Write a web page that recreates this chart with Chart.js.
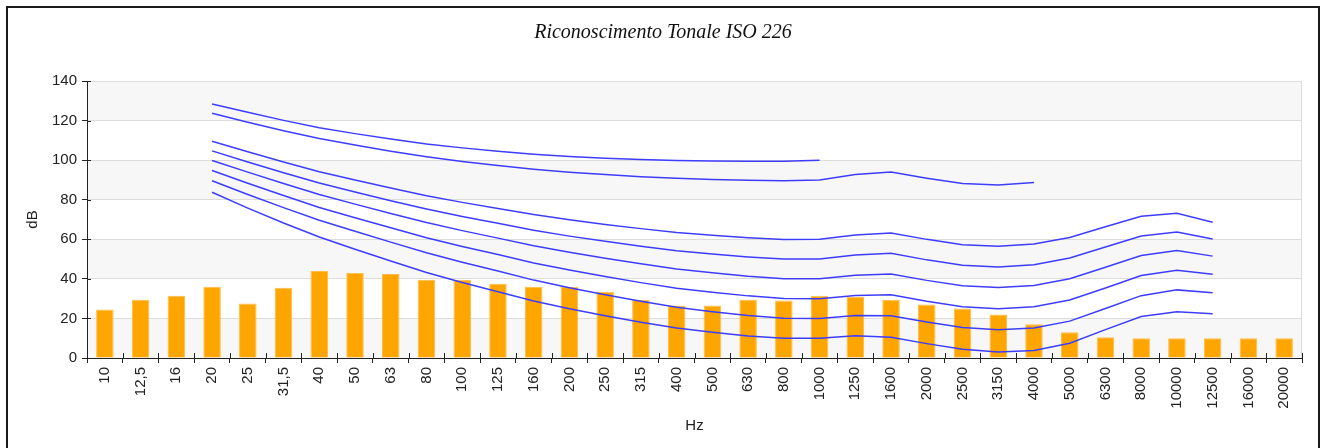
<!DOCTYPE html>
<html>
<head>
<meta charset="utf-8">
<script src="https://cdn.jsdelivr.net/npm/chart.js@4.4.1/dist/chart.umd.min.js"></script>
<style>
  body { margin: 0; background: #fff; }
  #box { position: absolute; left: 6px; top: 6px; width: 1310px; height: 460px; border: 2px solid #1a1a1a; }
</style>
</head>
<body>
<div id="box"><canvas id="isoChart"></canvas></div>
<script>
// frequenze (Hz)
const categories = ['10', '12,5', '16', '20', '25', '31,5', '40', '50', '63', '80', '100', '125', '160', '200',
    '250', '315', '400', '500', '630', '800', '1000', '1250', '1600', '2000', '2500', '3150', '4000',
    '5000', '6300', '8000', '10000', '12500', '16000', '20000'];

// livelli misurati (barre)
const measured = [24.5, 29.5, 31.5, 36, 27.5, 35.5, 44, 43, 42.5, 39.5, 39.5, 37.5, 36, 36, 33.5, 29.5,
    26.5, 26.5, 29.5, 29, 31.5, 31, 29.5, 27, 25, 22, 17, 13, 10.5, 10, 10, 10, 10, 10];

// curve isofoniche, da 20 Hz in poi
const phon10 = [83.75, 75.76, 68.21, 61.14, 54.96, 49.01, 43.24, 38.13, 33.48, 28.77, 24.84, 21.33, 18.05, 15.14,
    12.98, 11.18, 9.99, 10.00, 11.26, 10.43, 7.27, 4.45, 3.04, 3.80, 7.46, 14.35, 20.98, 23.43, 22.33];
const phon20 = [89.58, 82.65, 75.98, 69.62, 64.02, 58.55, 53.19, 48.38, 43.94, 39.37, 35.51, 31.99, 28.69, 25.67,
    23.43, 21.48, 20.10, 20.01, 21.46, 21.40, 18.15, 15.38, 14.26, 15.14, 18.63, 25.02, 31.52, 34.43, 33.04];
const phon30 = [94.8, 88.3, 82.1, 76.1, 70.9, 65.8, 60.8, 56.4, 52.3, 48.0, 44.5, 41.2, 38.1, 35.3,
    33.2, 31.4, 30.1, 30.0, 31.6, 32.0, 28.7, 25.9, 24.9, 25.9, 29.3, 35.4, 41.7, 44.4, 42.3];
const phon40 = [99.85, 93.94, 88.17, 82.63, 77.78, 73.08, 68.48, 64.37, 60.59, 56.70, 53.41, 50.40, 47.58, 44.98,
    43.05, 41.34, 40.06, 40.01, 41.82, 42.51, 39.23, 36.51, 35.61, 36.65, 40.01, 45.83, 51.80, 54.28, 51.49];
const phon50 = [104.7, 99.1, 93.6, 88.4, 83.9, 79.5, 75.3, 71.5, 68.1, 64.6, 61.6, 59.0, 56.5, 54.2,
    52.6, 51.1, 50.0, 50.0, 52.0, 52.9, 49.6, 46.9, 46.0, 47.1, 50.5, 56.1, 61.7, 63.7, 60.1];
const phon60 = [109.51, 104.23, 99.08, 94.18, 89.96, 85.94, 82.05, 78.65, 75.56, 72.47, 69.86, 67.53, 65.39, 63.45,
    62.05, 60.81, 59.89, 60.01, 62.15, 63.19, 59.96, 57.26, 56.42, 57.57, 60.89, 66.36, 71.66, 73.16, 68.63];
const phon90 = [123.7, 119.2, 114.9, 110.9, 107.6, 104.5, 101.7, 99.3, 97.3, 95.4, 93.9, 92.7, 91.6, 90.8,
    90.2, 89.8, 89.6, 90.0, 92.7, 94.0, 90.9, 88.2, 87.4, 88.7];
const phon100 = [128.4, 124.2, 120.1, 116.4, 113.4, 110.7, 108.2, 106.2, 104.5, 103.0, 101.9, 101.0, 100.3, 99.8,
    99.6, 99.5, 99.4, 100.0];

const curveStart = categories.indexOf('20');

// mette la curva sulle categorie giuste, null dove manca
function onCategories(values) {
    const out = categories.map(() => null);
    values.forEach((v, i) => { out[curveStart + i] = v; });
    return out;
}

const curves = [phon100, phon90, phon60, phon50, phon40, phon30, phon20, phon10];

const lineSets = curves.map(c => ({
    type: 'line',
    data: onCategories(c),
    borderColor: '#3d3dff',
    borderWidth: 1.5,
    pointRadius: 0,
    tension: 0,
    spanGaps: false,
    order: 1
}));

// bande grigie alternate + tacche interne degli assi
const bandsPlugin = {
    id: 'bands',
    beforeDraw(chart) {
        const {ctx, chartArea, scales: {y}} = chart;
        ctx.save();
        ctx.fillStyle = '#f7f7f7';
        for (let v = 0; v < 140; v += 40) {
            const top = y.getPixelForValue(v + 20);
            const bottom = y.getPixelForValue(v);
            ctx.fillRect(chartArea.left, top, chartArea.right - chartArea.left, bottom - top);
        }
        ctx.fillRect(chartArea.left, y.getPixelForValue(140), chartArea.right - chartArea.left,
            y.getPixelForValue(120) - y.getPixelForValue(140));
        ctx.restore();
    },
    afterDraw(chart) {
        const {ctx, chartArea, scales: {x, y}} = chart;
        ctx.save();
        ctx.strokeStyle = '#dcdcdc';
        ctx.lineWidth = 1;
        ctx.beginPath();
        ctx.moveTo(chartArea.right - 0.5, chartArea.top);
        ctx.lineTo(chartArea.right - 0.5, chartArea.bottom);
        ctx.stroke();
        ctx.strokeStyle = '#222';
        ctx.beginPath();
        y.ticks.forEach((t, i) => {
            const py = Math.round(y.getPixelForTick(i)) + 0.5;
            ctx.moveTo(chartArea.left, py);
            ctx.lineTo(chartArea.left + 4, py);
        });
        const n = categories.length;
        for (let i = 0; i <= n; i++) {
            const px = Math.round(x.left + i * (x.right - x.left) / n) + 0.5;
            ctx.moveTo(px, chartArea.bottom);
            ctx.lineTo(px, chartArea.bottom - 5);
        }
        ctx.stroke();
        ctx.restore();
    }
};

const ctx = document.getElementById('isoChart').getContext('2d');
const isoChart = new Chart(ctx, {
    type: 'bar',
    data: {
        labels: categories,
        datasets: [
            ...lineSets,
            {
                type: 'bar',
                data: measured,
                backgroundColor: '#ffa500',
                borderColor: '#ffbd45',
                borderWidth: 1,
                barPercentage: 0.49,
                categoryPercentage: 1,
                order: 5
            }
        ]
    },
    options: {
        responsive: true,
        maintainAspectRatio: false,
        animation: false,
        layout: {
            padding: { left: 16, right: 16, top: 0, bottom: 33 }
        },
        plugins: {
            legend: { display: false },
            tooltip: { enabled: false },
            title: {
                display: true,
                text: 'Riconoscimento Tonale ISO 226',
                color: '#111',
                font: { family: 'Liberation Serif', style: 'italic', size: 20, weight: 'normal' },
                padding: { top: 13, bottom: 36 }
            }
        },
        scales: {
            x: {
                offset: true,
                grid: {
                    offset: true,
                    drawOnChartArea: false,
                    tickLength: 5,
                    tickColor: '#222'
                },
                border: { color: '#222', width: 1 },
                ticks: {
                    color: '#222',
                    minRotation: 90,
                    maxRotation: 90,
                    autoSkip: false,
                    padding: 4,
                    font: { family: 'Liberation Sans', size: 15 }
                },
                title: {
                    display: true,
                    text: 'Hz',
                    color: '#222',
                    padding: 0,
                    font: { family: 'Liberation Sans', size: 15 }
                },
                afterFit(scale) { scale.height = 77; }
            },
            y: {
                min: 0,
                max: 140,
                ticks: {
                    stepSize: 20,
                    color: '#222',
                    padding: 5,
                    font: { family: 'Liberation Sans', size: 15 }
                },
                grid: {
                    color: '#dcdcdc',
                    tickLength: 5,
                    tickColor: '#222'
                },
                border: { color: '#222', width: 1 },
                title: {
                    display: true,
                    text: 'dB',
                    color: '#222',
                    padding: 0,
                    font: { family: 'Liberation Sans', size: 15 }
                },
                afterFit(scale) { scale.width = 63; }
            }
        }
    },
    plugins: [bandsPlugin]
});
</script>
</body>
</html>
